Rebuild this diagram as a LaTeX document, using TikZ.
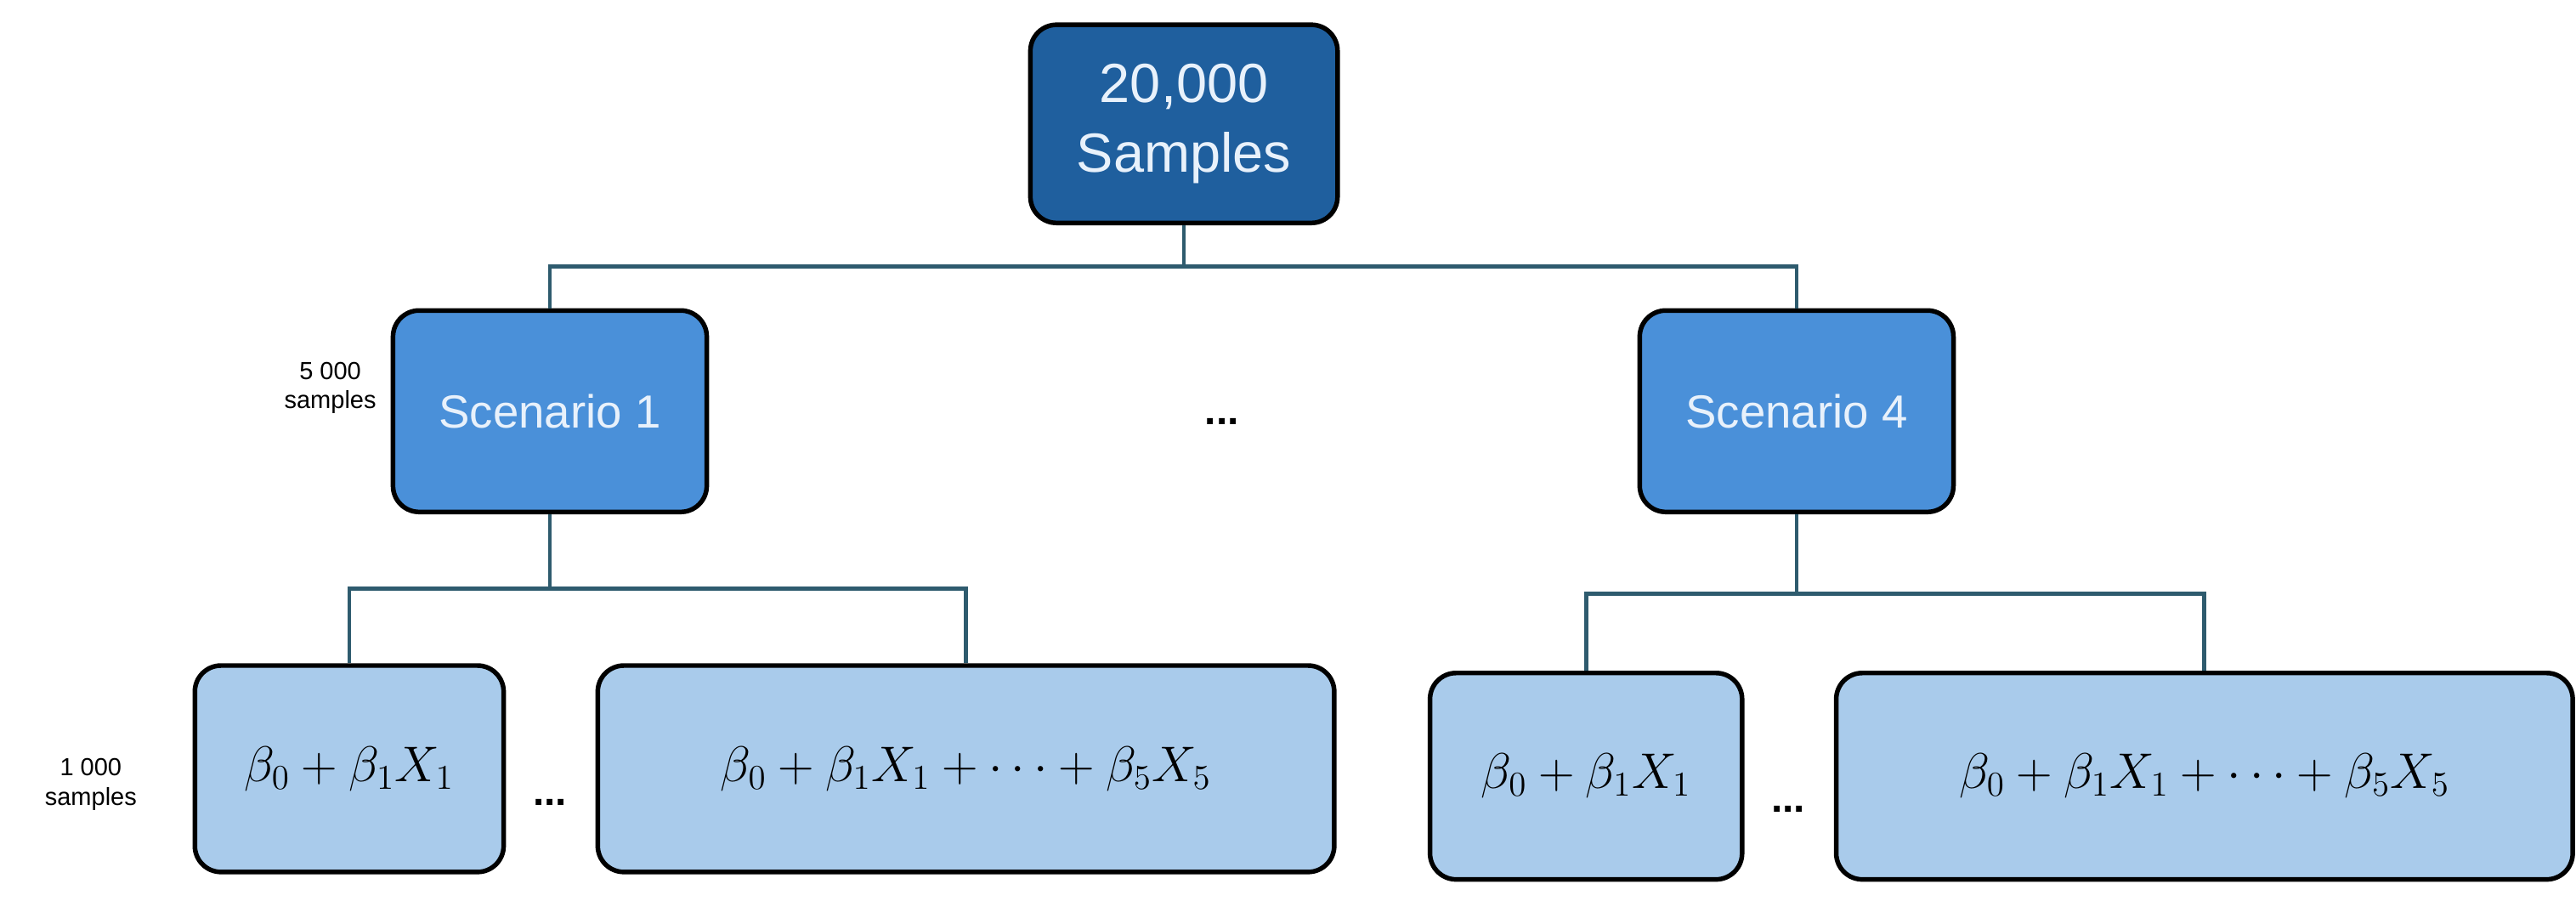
\documentclass[tikz,border=0pt]{standalone}
\usepackage{amsmath}
\usepackage{fontspec}
\setmainfont{Liberation Sans}
\usepackage{tikz}
\usetikzlibrary{positioning}
\definecolor{topblue}{HTML}{1F5F9E}
\definecolor{midblue}{HTML}{4A90D9}
\definecolor{lowblue}{HTML}{A9CBEB}
\definecolor{linkcol}{HTML}{2E5B6E}
\definecolor{lighttext}{HTML}{E8F1FB}

\begin{document}
\begin{tikzpicture}[x=0.02cm,y=-0.02cm,
    box/.style={draw=black,line width=1.6pt,rounded corners=9pt,inner sep=0pt},
    root/.style={box,fill=topblue,text=lighttext,minimum width=186*0.02cm,minimum height=120*0.02cm,font=\fontsize{19}{24}\selectfont,align=center},
    scen/.style={box,fill=midblue,text=lighttext,minimum width=190*0.02cm,minimum height=122*0.02cm,font=\fontsize{16}{20}\selectfont},
    model/.style={box,fill=lowblue,minimum height=125*0.02cm,font=\fontsize{17}{20}\selectfont},
    link/.style={draw=linkcol,line width=1.4pt},
    note/.style={font=\fontsize{8.5}{10}\selectfont,align=center},
    dots/.style={font=\fontsize{14}{16}\selectfont\bfseries}]

    \useasboundingbox (0,0) rectangle (1560,545.5);

    % The tree
    \node [root] at (717,75) (top) {20,000\\Samples};
    \node [scen] at (333,249) (s1) {Scenario 1};
    \node [scen] at (1088,249) (s4) {Scenario 4};
    \node [model,minimum width=187*0.02cm] at (211.5,465.5) (b1) {$\beta_0+\beta_1X_1$};
    \node [model,minimum width=446*0.02cm] at (585,465.5) (b2) {$\beta_0+\beta_1X_1+\cdots+\beta_5X_5$};
    \node [model,minimum width=189*0.02cm] at (960.5,470) (b3) {$\beta_0+\beta_1X_1$};
    \node [model,minimum width=446*0.02cm] at (1335,470) (b4) {$\beta_0+\beta_1X_1+\cdots+\beta_5X_5$};

    % Dots and side labels
    \node [dots] at (740,255) (d1) {...};
    \node [dots] at (333,486) (d2) {...};
    \node [dots] at (1083,490) (d3) {...};
    \node [note] at (200,235) (n1) {5 000\\samples};
    \node [note] at (55,475) (n2) {1 000\\samples};

    % Branches
    \path[link] (top.south) -- ++(0,25) -| (s1.north);
    \path[link] (top.south) -- ++(0,25) -| (s4.north);
    \path[link] (s1.south) -- ++(0,45) -| (b1.north);
    \path[link] (s1.south) -- ++(0,45) -| (b2.north);
    \path[link] (s4.south) -- ++(0,48) -| (b3.north);
    \path[link] (s4.south) -- ++(0,48) -| (b4.north);
\end{tikzpicture}
\end{document}
